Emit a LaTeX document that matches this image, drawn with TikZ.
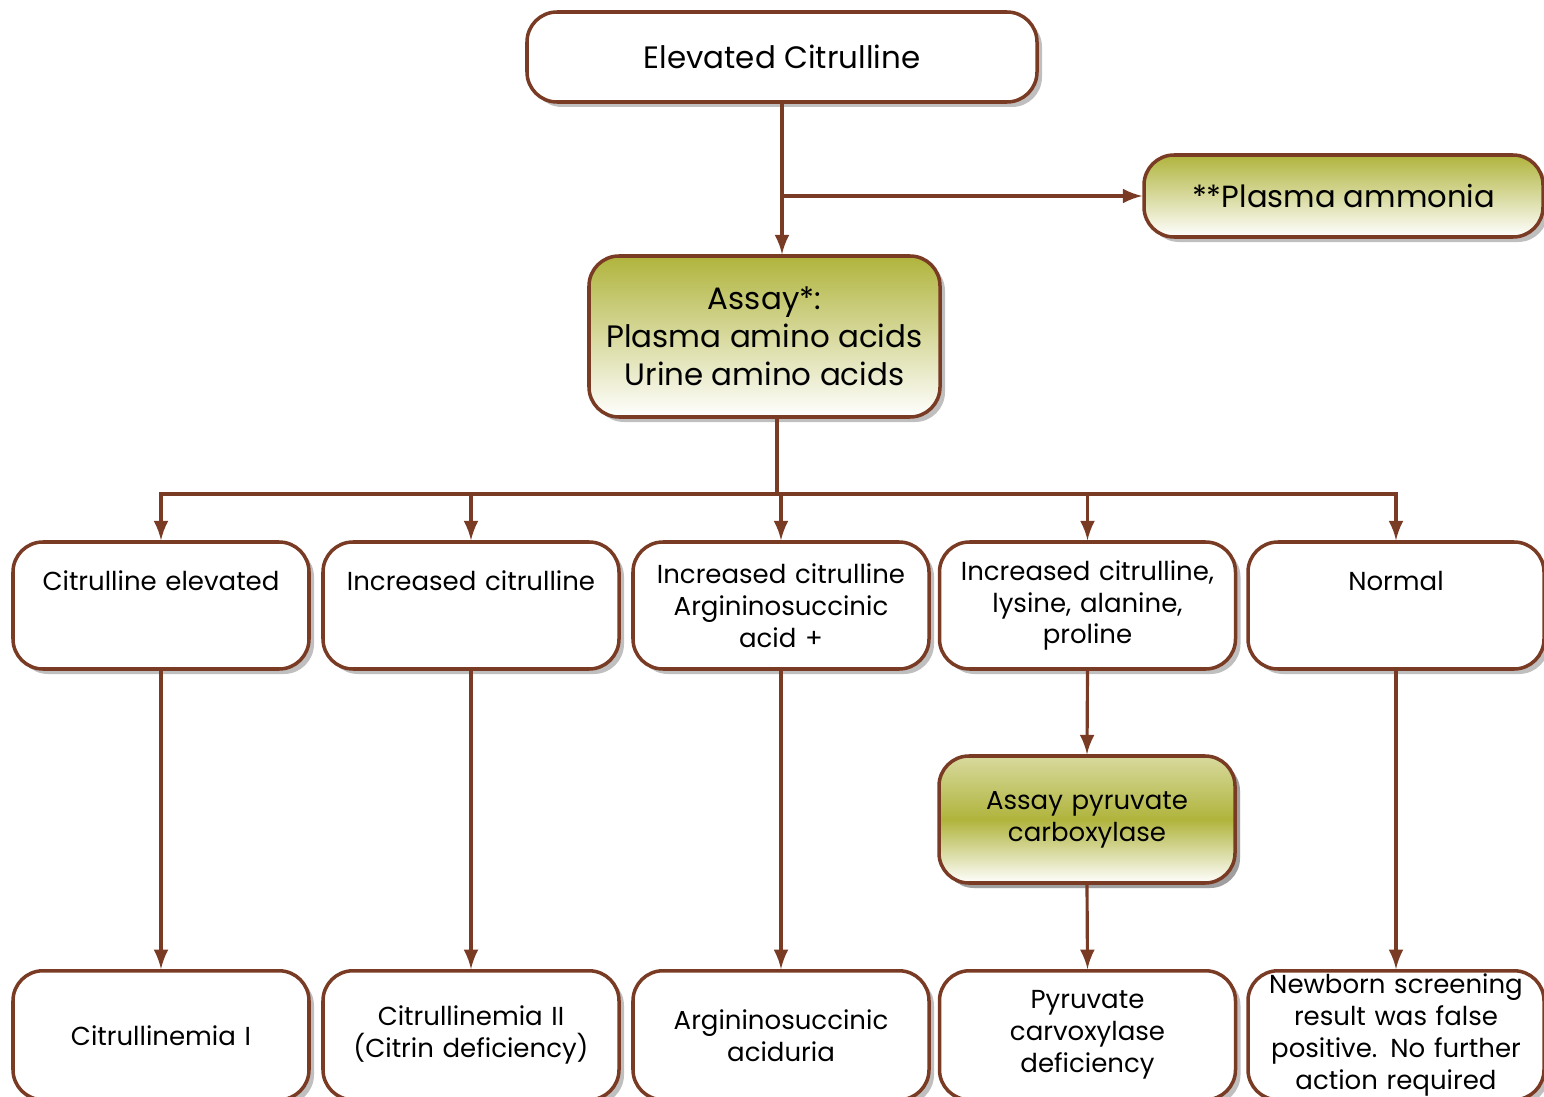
\documentclass[tikz,border=0pt]{standalone}
\usepackage{fontspec}
\setmainfont{Poppins}
\usepackage{tikz}
\usetikzlibrary{arrows}
\usetikzlibrary{positioning}
\usetikzlibrary{shadows}
\definecolor{brownline}{HTML}{7A3B24}
\definecolor{olive}{HTML}{B0B43C}
\tikzset{box/.style = {draw = brownline, line width = 1pt, rounded corners = 0.3cm,
    fill = white, align = center, inner sep = 0.08cm,
    drop shadow = {shadow xshift = 0.05cm, shadow yshift = -0.05cm, opacity = 0.5}},
  greenbox/.style = {box, top color = olive, bottom color = white},
  midgreen/.style = {box, top color = olive!50, bottom color = white, middle color = olive},
  rowbox/.style = {box, minimum width = 2.96cm, minimum height = 1.27cm, text width = 2.78cm,
    font = \fontsize{7.4}{9.1}\selectfont},
  endbox/.style = {rowbox, minimum height = 1.29cm, anchor = north},
  topline/.style = {text height = 0.39cm, text depth = 0.7cm},
  conn/.style = {draw = brownline, line width = 0.9pt, -latex}}

\begin{document}
\begin{tikzpicture}
      \useasboundingbox (0, 0) rectangle (15.44, -10.97);
      \node [box, minimum width = 5.10cm, minimum height = 0.90cm,
        font = \fontsize{8.8}{11}\selectfont] (elev) at (7.82, -0.57) {Elevated Citrulline};
      \node [greenbox, minimum width = 3.99cm, minimum height = 0.82cm,
        font = \fontsize{8.7}{11}\selectfont] (ammonia) at (13.435, -1.96) {**Plasma ammonia};
      \node [greenbox, minimum width = 3.51cm, minimum height = 1.61cm,
        font = \fontsize{8.8}{10.8}\selectfont] (assay) at (7.645, -3.365)
        {Assay*:\\Plasma amino acids\\Urine amino acids};
      % results of the amino acid assay
      \node [rowbox, topline] (elevated) at (1.61, -6.055) {Citrulline elevated};
      \node [rowbox, topline] (increased) at (4.71, -6.055) {Increased citrulline};
      \node [rowbox] (asa) at (7.81, -6.055) {Increased citrulline\\Argininosuccinic\\acid +};
      \node [rowbox] (lysine) at (10.875, -6.055) {Increased citrulline,\\lysine, alanine,\\proline};
      \node [rowbox, topline] (normal) at (13.96, -6.055) {Normal};
      \node [rowbox, midgreen] (pcassay) at (10.87, -8.195) {Assay pyruvate\\carboxylase};
      % diagnoses
      \node [endbox] (cit1) at (1.61, -9.69) {Citrullinemia I};
      \node [endbox] (cit2) at (4.71, -9.69) {Citrullinemia II\\(Citrin deficiency)};
      \node [endbox] (asauria) at (7.81, -9.69) {Argininosuccinic\\aciduria};
      \node [endbox] (pcdef) at (10.875, -9.69) {Pyruvate\\carvoxylase\\deficiency};
      \node [endbox, inner ysep = 0.01cm] (falsepos) at (13.96, -9.69)
        {Newborn screening\\result was false\\positive. No further\\action required};
      \coordinate (trunk) at (7.77, -4.94);
      \draw [conn] (elev.south) -- (elev.south |- assay.north);
      \draw [conn] (elev.south |- ammonia.west) -- (ammonia.west);
      \draw [brownline, line width = 0.9pt] (assay.south -| trunk) -- (trunk);
      \foreach \n in {elevated, increased, asa, lysine, normal} {
        \draw [conn] (trunk) -| (\n.north);
      }
      \draw [conn] (elevated.south) -- (cit1.north);
      \draw [conn] (increased.south) -- (cit2.north);
      \draw [conn] (asa.south) -- (asauria.north);
      \draw [conn] (lysine.south) -- (pcassay.north);
      \draw [conn] (pcassay.south) -- (pcdef.north);
      \draw [conn] (normal.south) -- (falsepos.north);
    \end{tikzpicture}
\end{document}
